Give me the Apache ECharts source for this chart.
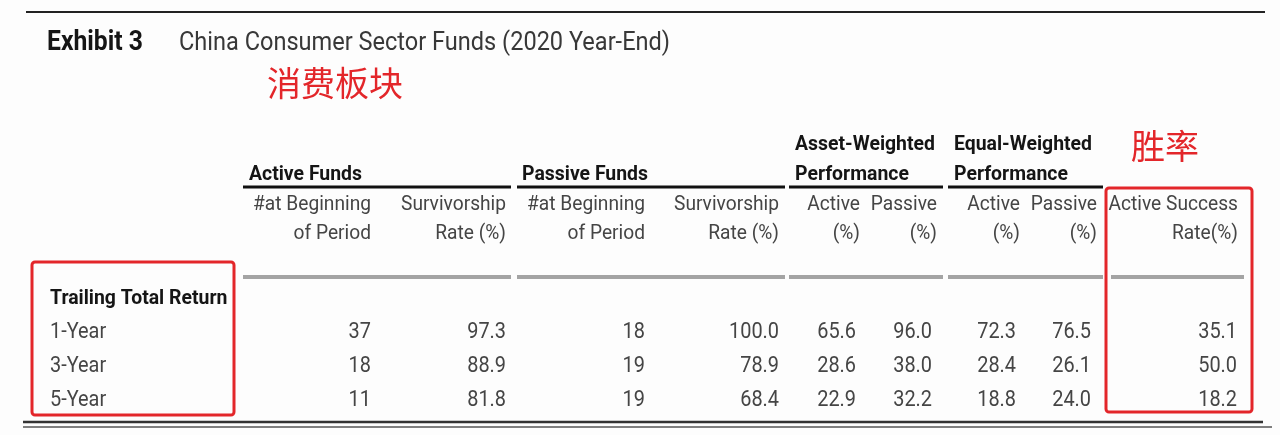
<!DOCTYPE html>
<html>
<head>
<meta charset="utf-8">
<script src="https://cdn.jsdelivr.net/npm/echarts@6/dist/echarts.min.js"></script>
<style>
html,body{margin:0;padding:0;background:#fdfdfd;}
#main{width:1280px;height:435px;}
</style>
</head>
<body>
<div id="main"></div>
<script>
// ---- data ----
const rowLabels = ['1-Year', '3-Year', '5-Year'];
const activeCount = [37, 18, 11];
const activeSurvivorship = [97.3, 88.9, 81.8];
const passiveCount = [18, 19, 19];
const passiveSurvivorship = [100.0, 78.9, 68.4];
const assetWeightedActive = [65.6, 28.6, 22.9];
const assetWeightedPassive = [96.0, 38.0, 32.2];
const equalWeightedActive = [72.3, 28.4, 18.8];
const equalWeightedPassive = [76.5, 26.1, 24.0];
const activeSuccessRate = [35.1, 50.0, 18.2];

const titleBold = 'Exhibit 3';
const titleText = 'China Consumer Sector Funds (2020 Year-End)';
const noteSector = '消费板块';
const noteWinRate = '胜率';
const groupHeaders = [
  ['', 'Active Funds'], ['', 'Passive Funds'],
  ['Asset-Weighted', 'Performance'], ['Equal-Weighted', 'Performance']
];
const columnHeaders = [
  ['#at Beginning', 'of Period'], ['Survivorship', 'Rate (%)'],
  ['#at Beginning', 'of Period'], ['Survivorship', 'Rate (%)'],
  ['Active', '(%)'], ['Passive', '(%)'],
  ['Active', '(%)'], ['Passive', '(%)'],
  ['Active Success', 'Rate(%)']
];
const sectionLabel = 'Trailing Total Return';

// ---- layout / style ----
const FONT = 'Roboto, "Liberation Sans", sans-serif';
const CJK = '"Noto Sans CJK SC", sans-serif';
const TXT = '#454545';
const BOLD = '#151515';
const RED = '#e3262a';
const colRight = [371, 506, 645, 779, 856, 932, 1016, 1091, 1237];
const headRight = [371, 506, 645, 779, 860, 937, 1020, 1097, 1238];
const groupLeft = [249, 522, 795, 954];
const groupSeg = [[243, 511], [517, 785], [789, 943], [948, 1103]];
const graySeg = [[243, 511], [517, 785], [789, 943], [948, 1103], [1111, 1244]];

// condensed look: measure a reference string and squeeze horizontally
const mctx = document.createElement('canvas').getContext('2d');
function squeeze(sample, font, width) {
  mctx.font = font;
  return width / mctx.measureText(sample).width;
}
const F_EXH = 'bold 27px ' + FONT;
const F_TITLE = '26px ' + FONT;
const F_BOLD = 'bold 21px ' + FONT;
const F_HEAD = '21px ' + FONT;
const F_NUM = '22px ' + FONT;
const S_EXH = squeeze('Exhibit 3', F_EXH, 96);
const S_TITLE = squeeze('China Consumer Sector Funds (2020 Year-End)', F_TITLE, 491);
const S_BOLD = squeeze('Active Funds', F_BOLD, 113);
const S_HEAD = squeeze('Survivorship', F_HEAD, 105);
const S_NUM = squeeze('100.0', F_NUM, 50);

const columns = [
  activeCount.map(v => String(v)),
  activeSurvivorship.map(v => v.toFixed(1)),
  passiveCount.map(v => String(v)),
  passiveSurvivorship.map(v => v.toFixed(1)),
  assetWeightedActive.map(v => v.toFixed(1)),
  assetWeightedPassive.map(v => v.toFixed(1)),
  equalWeightedActive.map(v => v.toFixed(1)),
  equalWeightedPassive.map(v => v.toFixed(1)),
  activeSuccessRate.map(v => v.toFixed(1))
];

const cells = [];
rowLabels.forEach((lab, r) => {
  cells.push({ value: [50, r], label: lab, align: 'left' });
  columns.forEach((col, c) => {
    cells.push({ value: [colRight[c], r], label: col[r], align: 'right' });
  });
});

const graphics = [];
function txt(x, y, s, font, sx, opt) {
  graphics.push({
    type: 'text', x: x, y: y, scaleX: sx, silent: true,
    style: Object.assign({ text: s, font: font, fill: TXT, align: 'left', verticalAlign: 'middle' }, opt || {})
  });
}
function line(x1, x2, y, w, c) {
  graphics.push({ type: 'line', silent: true, shape: { x1: x1, y1: y, x2: x2, y2: y }, style: { stroke: c, lineWidth: w } });
}
line(26, 1265, 12, 2, '#222');
txt(47, 43, titleBold, F_EXH, S_EXH, { fill: BOLD });
txt(179, 43, titleText, F_TITLE, S_TITLE, { fill: '#383838' });
txt(267, 83, noteSector, '34px ' + CJK, 1, { fill: RED });
txt(1131, 146, noteWinRate, '34px ' + CJK, 1, { fill: RED });
groupHeaders.forEach((g, i) => {
  if (g[0]) txt(groupLeft[i], 145, g[0], F_BOLD, S_BOLD, { fill: BOLD });
  txt(groupLeft[i], 175, g[1], F_BOLD, S_BOLD, { fill: BOLD });
});
groupSeg.forEach(s => line(s[0], s[1], 187, 3, '#111'));
columnHeaders.forEach((h, i) => {
  txt(headRight[i], 205, h[0], F_HEAD, S_HEAD, { align: 'right' });
  txt(headRight[i], 234, h[1], F_HEAD, S_HEAD, { align: 'right' });
});
graySeg.forEach(s => line(s[0], s[1], 277, 4, '#a4a4a4'));
txt(50, 299, sectionLabel, F_BOLD, S_BOLD, { fill: BOLD });
line(23, 1263, 422, 2.5, '#333');
line(23, 1272, 427, 1.5, '#555');
graphics.push({ type: 'rect', silent: true, shape: { x: 32, y: 262, width: 202, height: 153, r: 3 }, style: { fill: 'none', stroke: RED, lineWidth: 3 } });
graphics.push({ type: 'rect', silent: true, shape: { x: 1106, y: 188, width: 146, height: 224, r: 3 }, style: { fill: 'none', stroke: RED, lineWidth: 3 } });

const chart = echarts.init(document.getElementById('main'), null, { renderer: 'canvas' });
chart.setOption({
  backgroundColor: '#fdfdfd',
  animation: false,
  grid: { left: 0, right: 0, top: 315, height: 102 },
  xAxis: { type: 'value', min: 0, max: 1280, show: false },
  yAxis: { type: 'category', data: rowLabels, inverse: true, show: false },
  graphic: graphics,
  series: [{
    type: 'custom',
    data: cells,
    renderItem: function (params, api) {
      const p = api.coord([api.value(0), api.value(1)]);
      const cell = cells[params.dataIndex];
      return {
        type: 'text',
        x: p[0], y: p[1], scaleX: S_NUM,
        style: { text: cell.label, font: F_NUM, fill: TXT, align: cell.align, verticalAlign: 'middle' }
      };
    }
  }]
});
</script>
</body>
</html>
